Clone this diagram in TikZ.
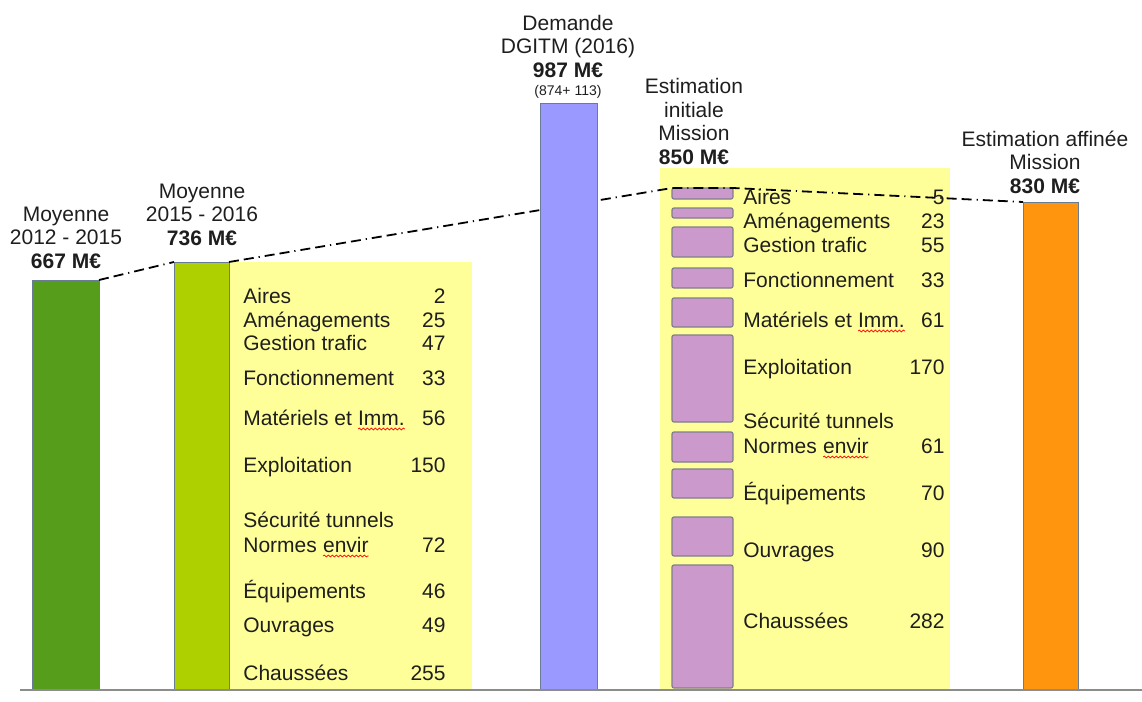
\documentclass[tikz,border=0pt]{standalone}
\usepackage{fontspec}
\setmainfont{Liberation Sans}
\usetikzlibrary{decorations.pathmorphing}

\definecolor{barone}{HTML}{579D1C}
\definecolor{bartwo}{HTML}{AECF00}
\definecolor{barthree}{HTML}{9999FF}
\definecolor{barfive}{HTML}{FF950E}
\definecolor{paleyellow}{HTML}{FFFF99}
\definecolor{lilac}{HTML}{CC99CC}
\definecolor{edgegray}{HTML}{6A7B95}
\definecolor{blockgray}{HTML}{7F7F8C}
\definecolor{axisgray}{HTML}{8C8C8C}
\definecolor{textc}{HTML}{1E1E1E}

% red wavy underline (spell-check mark)
\newcommand{\wavy}[1]{\tikz[baseline=(w.base)]{\node[inner sep=0pt,outer sep=0pt] (w) {#1};
  \draw[red,line width=0.35pt,decorate,decoration={snake,amplitude=0.45pt,segment length=2pt}]
    ([yshift=-2pt]w.base west) -- ([yshift=-2pt]w.base east);}}

\begin{document}
\begin{tikzpicture}[x=0.5pt,y=-0.5pt,
  bar/.style={draw=edgegray,line width=0.5pt,inner sep=0pt,outer sep=0pt,anchor=south west},
  panel/.style={fill=paleyellow,inner sep=0pt,outer sep=0pt,anchor=south west},
  block/.style={fill=lilac,draw=blockgray,line width=0.6pt,rounded corners=1pt,
    inner sep=0pt,outer sep=0pt,anchor=north west,minimum width=30.5pt},
  head/.style={align=center,anchor=base,inner sep=0pt,text=textc,
    font=\fontsize{10.5}{11.75}\selectfont},
  item/.style={inner sep=0pt,text=textc,font=\fontsize{10.5}{11.75}\selectfont},
  link/.style={line width=0.9pt,dash pattern={on 5pt off 2.5pt on 5pt off 2.5pt on 0.6pt off 2.5pt}}]
\useasboundingbox (0,0) rectangle (1142,702);

% yellow detail panels
\node[panel,minimum width=121.5pt,minimum height=214pt] (pa) at (229,690) {};
\node[panel,minimum width=145pt,minimum height=261pt] (pb) at (660,690) {};

% purple blocks of the initial estimate
\foreach \t/\b [count=\i] in {188/199,208/218,227/257,268/288,298/327,335/422,432/462,469/498,517/556,565/688}
  \node[block,minimum height={(\b-\t)*0.5pt}] (p\i) at (672,\t) {};

% bars
\node[bar,fill=barone,minimum width=33.5pt,minimum height=205pt] (b1) at (32,690) {};
\node[bar,fill=bartwo,minimum width=27.5pt,minimum height=214pt] (b2) at (174,690) {};
\node[bar,fill=barfive,minimum width=27.5pt,minimum height=244pt] (b5) at (1023,690) {};

% trend line
\draw[link] (b1.north east) -- (b2.north west);
\draw[link] (b2.north east) -- (p1.north west) -- (p1.north east) -- (b5.north west);

\node[bar,fill=barthree,minimum width=28.5pt,minimum height=293.5pt] (b3) at (540,690) {};

% headings (base = last line)
\node[head] (h1) at (66,268) {Moyenne\\2012 - 2015\\\textbf{667 M€}};
\node[head] (h2) at (202,245) {Moyenne\\2015 - 2016\\\textbf{736 M€}};
\node[head] (h3) at (568,95) {Demande\\DGITM (2016)\\\textbf{987 M€}\\[-2.75pt]{\fontsize{7}{8}\selectfont (874+ 113)}};
\node[head] (h4) at (694,164) {Estimation\\initiale\\Mission\\\textbf{850 M€}};
\node[head] (h5) at (1045,193) {Estimation affinée\\Mission\\\textbf{830 M€}};

% 2015-2016 breakdown
\foreach \yy/\lab/\val [count=\i] in {303/Aires/2,327/Aménagements/25,350/Gestion trafic/47,
    385/Fonctionnement/33,425/{Matériels et \wavy{Imm.}}/56,472/Exploitation/150,
    527/Sécurité tunnels/,552/{Normes \wavy{envir}}/72,598/Équipements/46,632/Ouvrages/49,680/Chaussées/255}{
  \node[item,anchor=base west] (la\i) at (243,\yy) {\lab};
  \node[item,anchor=base east] (va\i) at (446,\yy) {\val};
}

% mission breakdown
\foreach \yy/\lab/\val [count=\i] in {204/Aires/5,228/Aménagements/23,252/Gestion trafic/55,
    287/Fonctionnement/33,327/{Matériels et \wavy{Imm.}}/61,374/Exploitation/170,
    428/Sécurité tunnels/,453/{Normes \wavy{envir}}/61,500/Équipements/70,557/Ouvrages/90,628/Chaussées/282}{
  \node[item,anchor=base west] (lb\i) at (743,\yy) {\lab};
  \node[item,anchor=base east] (vb\i) at (945,\yy) {\val};
}

% axis
\coordinate (ax0) at (20,690);
\coordinate (ax1) at (1142,690);
\draw[axisgray,line width=1pt] (ax0) -- (ax1);
\end{tikzpicture}
\end{document}
